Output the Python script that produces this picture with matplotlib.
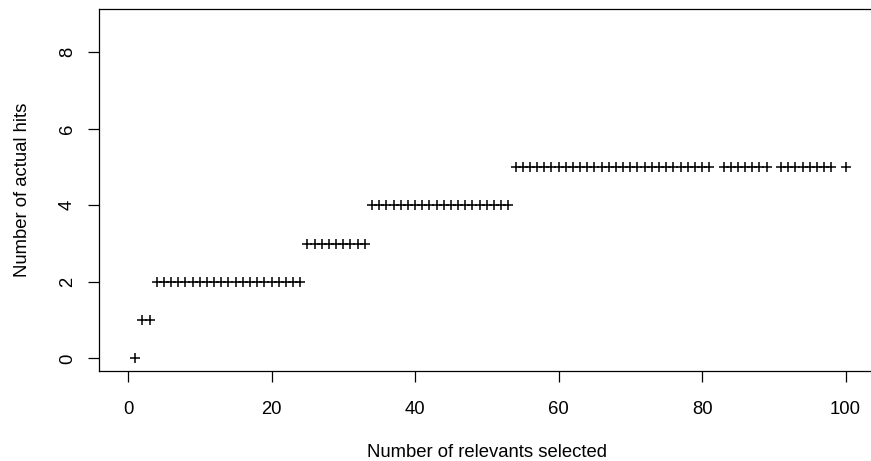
import numpy as np
import matplotlib
matplotlib.use("Agg")
import matplotlib.pyplot as plt

# number of relevants selected (x) and actual hits (y)
selected = [1,
            2, 3,
            *range(4, 25),
            *range(25, 34),
            *range(34, 54),
            *range(54, 82), *range(83, 90), *range(91, 99), 100]
hits = [0,
        1, 1,
        *[2] * 21,
        *[3] * 9,
        *[4] * 20,
        *[5] * 28, *[5] * 7, *[5] * 8, 5]

x_ticks = [0, 20, 40, 60, 80, 100]
y_ticks = [0, 2, 4, 6, 8]

plt.rcParams['font.family'] = ['Liberation Sans', 'DejaVu Sans']
fs = 13.3

fig = plt.figure(figsize=(8.71, 4.61), dpi=100)
ax = fig.add_axes([0.114, 0.196, 0.8898, 0.784])

ax.plot(selected, hits, linestyle='none', marker='+', color='black',
        markersize=7, markeredgewidth=1.1)

ax.set_xlim(-4, 104)
ax.set_ylim(-0.32, 9.12)
ax.set_xticks(x_ticks)
ax.set_yticks(y_ticks)
ax.tick_params(direction='out', length=8, width=0.9, labelsize=fs)
ax.tick_params(axis='x', pad=13.8)
ax.tick_params(axis='y', pad=8.9)
for lab in ax.get_yticklabels():
    lab.set_rotation(90)
    lab.set_va('center')

for s in ax.spines.values():
    s.set_linewidth(0.9)

ax.set_xlabel('Number of relevants selected', fontsize=fs, labelpad=18.7)
ax.set_ylabel('Number of actual hits', fontsize=fs, labelpad=20)

fig.savefig('out.png', dpi=100)
